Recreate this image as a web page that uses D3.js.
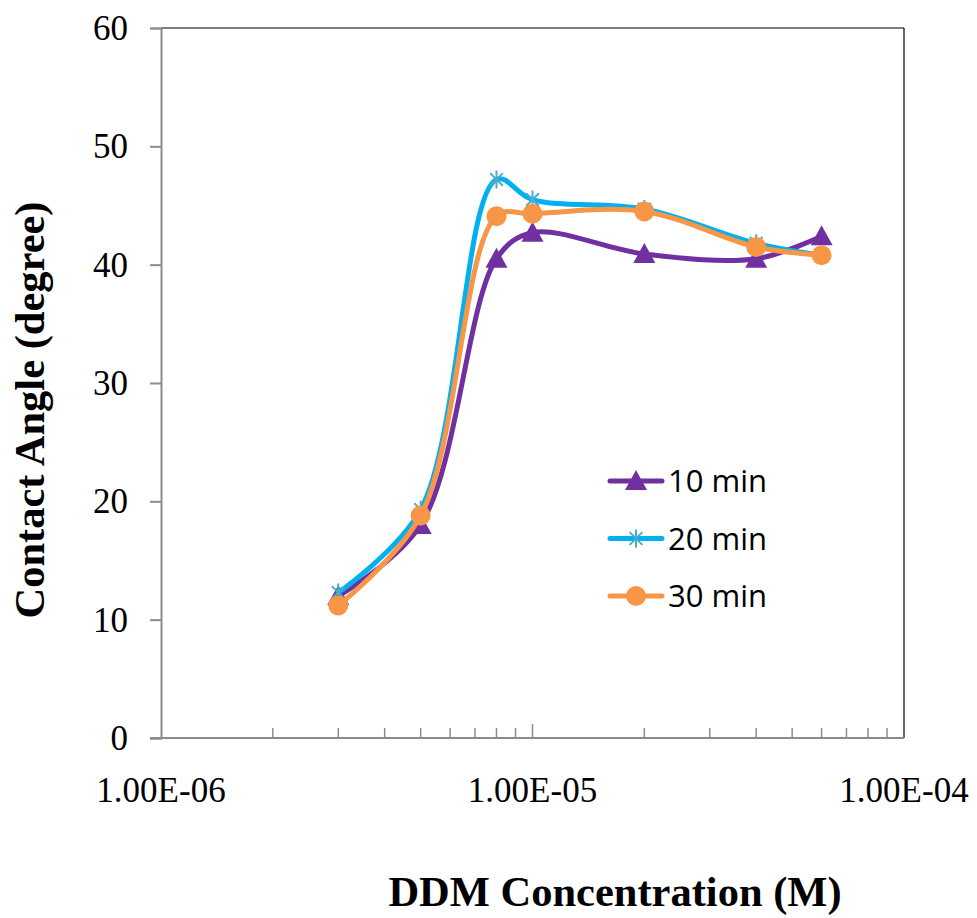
<!DOCTYPE html>
<html>
<head>
<meta charset="utf-8">
<script src="https://cdn.jsdelivr.net/npm/d3@7"></script>
<style>
  html, body { margin: 0; padding: 0; background: #fff; }
  svg { display: block; }
</style>
</head>
<body>
<svg id="chart" width="977" height="918"></svg>
<script>
// DDM concentration (M) for each measurement
const concentrations = [3e-6, 5e-6, 8e-6, 1e-5, 2e-5, 4e-5, 6e-5];
// Contact angle (degree) after each immersion time
const angle10 = [12.0, 18.0, 40.5, 42.7, 40.9, 40.5, 42.4];
const angle20 = [12.3, 19.3, 47.2, 45.5, 44.7, 41.8, 40.8];
const angle30 = [11.2, 18.8, 44.1, 44.3, 44.5, 41.5, 40.8];
const seriesNames = ["10 min", "20 min", "30 min"];
const xTickValues = [1e-6, 1e-5, 1e-4];
const xTickLabels = ["1.00E-06", "1.00E-05", "1.00E-04"];
const yTickValues = [0, 10, 20, 30, 40, 50, 60];

const svg = d3.select("#chart");
const plotLeft = 161, plotRight = 904, plotTop = 28, plotBottom = 738;

const x = d3.scaleLog().domain([1e-6, 1e-4]).range([plotLeft, plotRight]);
const y = d3.scaleLinear().domain([0, 60]).range([plotBottom, plotTop]);

const serif = "'Liberation Serif', 'Times New Roman', serif";
const sans = "'Open Sans', Lato, sans-serif";
const axisGrey = "#8c8c8c";

// plot frame: black top and right edges
svg.append("line").attr("x1", plotLeft).attr("x2", plotRight).attr("y1", plotTop).attr("y2", plotTop)
  .attr("stroke", "#000").attr("stroke-width", 1.2);
svg.append("line").attr("x1", plotRight).attr("x2", plotRight).attr("y1", plotTop).attr("y2", plotBottom)
  .attr("stroke", "#000").attr("stroke-width", 1.2);

// y axis
const yAxis = d3.axisLeft(y).tickValues(yTickValues).tickSize(11).tickPadding(22)
  .tickFormat(d3.format("d"));
const gy = svg.append("g").attr("transform", `translate(${plotLeft},0)`).call(yAxis);
gy.select(".domain").attr("stroke", axisGrey).attr("stroke-width", 2);
gy.selectAll(".tick line").attr("stroke", axisGrey).attr("stroke-width", 2);
gy.selectAll(".tick text").attr("font-family", serif).attr("font-size", 35).attr("fill", "#000")
  .attr("dy", "0.33em");

// x axis: minor ticks point inward, labels only at decades
const minorTicks = [];
for (let e = -6; e < -4; e++) for (let m = 2; m <= 9; m++) minorTicks.push(m * Math.pow(10, e));
const gx = svg.append("g").attr("transform", `translate(0,${plotBottom})`);
gx.append("line").attr("x1", plotLeft - 11).attr("x2", plotRight).attr("y1", 0).attr("y2", 0)
  .attr("stroke", axisGrey).attr("stroke-width", 2);
gx.selectAll("line.minor").data(minorTicks).join("line").attr("class", "minor")
  .attr("x1", d => x(d)).attr("x2", d => x(d)).attr("y1", 0).attr("y2", -10)
  .attr("stroke", axisGrey).attr("stroke-width", 1.5);
gx.append("line").attr("x1", x(1e-5)).attr("x2", x(1e-5)).attr("y1", 0).attr("y2", -14)
  .attr("stroke", axisGrey).attr("stroke-width", 1.5);
gx.selectAll("text.xl").data(xTickValues).join("text").attr("class", "xl")
  .attr("x", d => x(d)).attr("y", 64).attr("text-anchor", "middle")
  .attr("font-family", serif).attr("font-size", 35).attr("fill", "#000")
  .text((d, i) => xTickLabels[i]);

// axis titles
svg.append("text").attr("transform", `translate(44,${(plotTop + plotBottom) / 2 + 27}) rotate(-90)`)
  .attr("text-anchor", "middle").attr("font-family", serif).attr("font-weight", "bold")
  .attr("font-size", 42.5).attr("fill", "#000").text("Contact Angle (degree)");
svg.append("text").attr("x", 615).attr("y", 906).attr("text-anchor", "middle")
  .attr("font-family", serif).attr("font-weight", "bold").attr("font-size", 42.5)
  .attr("fill", "#000").text("DDM Concentration (M)");

const series = [
  { name: seriesNames[0], values: angle10, color: "#7030A0", marker: "triangle", mcolor: "#7030A0" },
  { name: seriesNames[1], values: angle20, color: "#00B0F0", marker: "star", mcolor: "#4BACC6" },
  { name: seriesNames[2], values: angle30, color: "#F79646", marker: "circle", mcolor: "#F79646" }
];

const line = d3.line().x(d => x(d[0])).y(d => y(d[1])).curve(d3.curveCatmullRom.alpha(0.5));

function drawMarker(g, type, color, cx, cy) {
  if (type === "triangle") {
    g.append("path").attr("d", `M${cx},${cy - 11}L${cx + 11},${cy + 9}L${cx - 11},${cy + 9}Z`)
      .attr("fill", color);
  } else if (type === "circle") {
    g.append("circle").attr("cx", cx).attr("cy", cy).attr("r", 10).attr("fill", color);
  } else {
    const r = 9;
    [Math.PI / 4, -Math.PI / 4, Math.PI / 2].forEach(a => {
      g.append("line").attr("x1", cx - r * Math.cos(a)).attr("y1", cy - r * Math.sin(a))
        .attr("x2", cx + r * Math.cos(a)).attr("y2", cy + r * Math.sin(a))
        .attr("stroke", color).attr("stroke-width", 2);
    });
  }
}

series.forEach(s => {
  const pts = concentrations.map((c, i) => [c, s.values[i]]);
  svg.append("path").datum(pts).attr("d", line).attr("fill", "none")
    .attr("stroke", s.color).attr("stroke-width", 5).attr("stroke-linecap", "round")
    .attr("stroke-linejoin", "round");
  const g = svg.append("g");
  pts.forEach(p => drawMarker(g, s.marker, s.mcolor, x(p[0]), y(p[1])));
});

// legend
const legend = svg.append("g");
series.forEach((s, i) => {
  const ly = 481 + i * 57.5;
  legend.append("line").attr("x1", 610).attr("x2", 662).attr("y1", ly).attr("y2", ly)
    .attr("stroke", s.color).attr("stroke-width", 5).attr("stroke-linecap", "round");
  drawMarker(legend, s.marker, s.mcolor, 636, ly);
  legend.append("text").attr("x", 668).attr("y", ly + 11).attr("font-family", sans)
    .attr("font-size", 31).attr("fill", "#000").text(s.name);
});
</script>
</body>
</html>
